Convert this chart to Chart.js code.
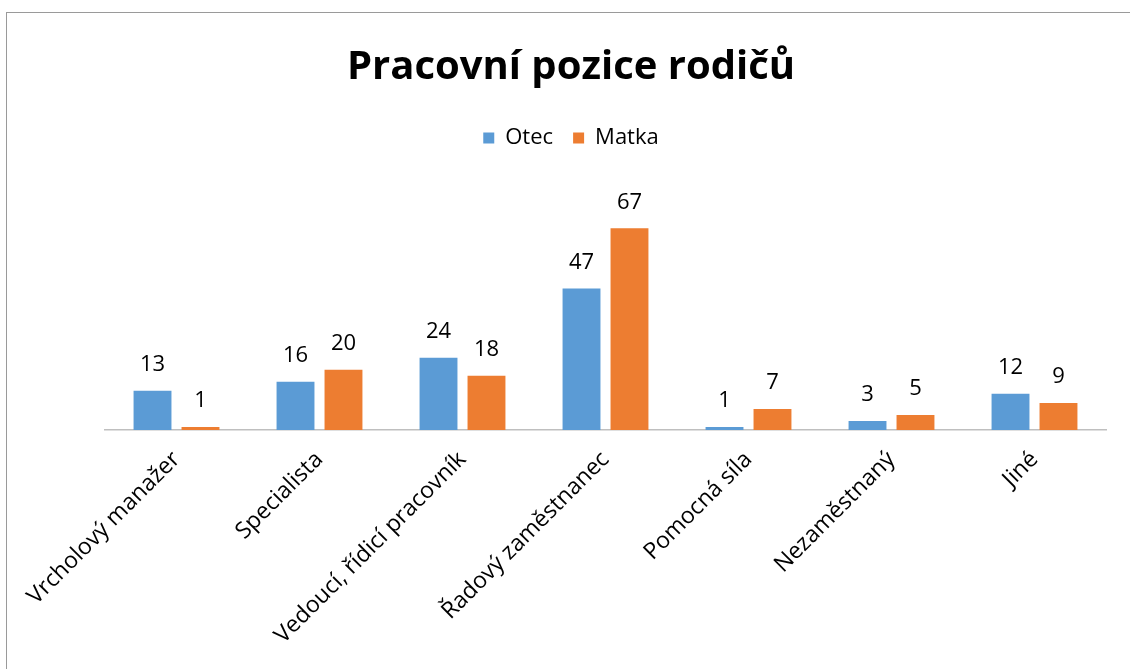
<!DOCTYPE html>
<html>
<head>
<meta charset="utf-8">
<script src="https://cdn.jsdelivr.net/npm/chart.js@4.4.0/dist/chart.umd.min.js"></script>
<style>
  html, body { margin: 0; padding: 0; background: #fff; }
  #wrap { position: relative; width: 1130px; height: 669px; overflow: hidden; }
  #frame { position: absolute; left: 6px; top: 12px; width: 1200px; height: 800px; border: 1.5px solid #9a9a9a; box-sizing: border-box; }
  canvas { position: absolute; left: 0; top: 0; }
</style>
</head>
<body>
<div id="wrap">
  <div id="frame"></div>
  <canvas id="c" width="1130" height="669"></canvas>
</div>
<script>
const titleText = "Pracovní pozice rodičů";
const categories = ["Vrcholový manažer", "Specialista", "Vedoucí, řídicí pracovník", "Řadový zaměstnanec", "Pomocná síla", "Nezaměstnaný", "Jiné"];
const seriesNames = ["Otec", "Matka"];
const otecValues = [13, 16, 24, 47, 1, 3, 12];
const matkaValues = [1, 20, 18, 67, 7, 5, 9];
const colors = ["#5B9BD5", "#ED7D31"];

const FONT = "'Open Sans', 'Noto Sans', sans-serif";

const valueLabels = {
  id: 'valueLabels',
  afterDatasetsDraw(chart) {
    const ctx = chart.ctx;
    ctx.save();
    ctx.font = "22px " + FONT;
    ctx.fillStyle = "#000";
    ctx.textAlign = "center";
    ctx.textBaseline = "middle";
    chart.data.datasets.forEach((ds, i) => {
      const meta = chart.getDatasetMeta(i);
      meta.data.forEach((bar, j) => {
        ctx.fillText(String(ds.data[j]), bar.x, bar.y - 26);
      });
    });
    ctx.restore();
  }
};

new Chart(document.getElementById('c'), {
  type: 'bar',
  data: {
    labels: categories,
    datasets: [
      { label: seriesNames[0], data: otecValues, backgroundColor: colors[0] },
      { label: seriesNames[1], data: matkaValues, backgroundColor: colors[1] }
    ]
  },
  options: {
    responsive: false,
    animation: false,
    devicePixelRatio: 1,
    categoryPercentage: 0.671,
    barPercentage: 0.79,
    layout: { padding: { left: 36, right: 24, top: 44, bottom: 0 } },
    plugins: {
      title: {
        display: true, text: titleText, color: "#000",
        font: { family: FONT, size: 40, weight: 'bold' },
        padding: { top: 0, bottom: 15 }
      },
      legend: {
        display: true, position: 'top',
        labels: { boxWidth: 11, boxHeight: 11, color: "#000", font: { family: FONT, size: 22 }, padding: 20 }
      },
      tooltip: { enabled: false }
    },
    scales: {
      x: {
        grid: { display: false, drawTicks: false },
        border: { display: true, color: "#bfbfbf", width: 1.5 },
        ticks: { color: "#000", font: { family: FONT, size: 23 }, minRotation: 45, maxRotation: 45, padding: 16, autoSkip: false },
        afterFit(scale) { scale.height = 239; }
      },
      y: {
        display: true, min: 0, max: 90,
        grid: { display: false, drawTicks: false },
        border: { display: false },
        ticks: { display: false },
        afterFit(scale) { scale.width = 69; }
      }
    }
  },
  plugins: [valueLabels]
});
</script>
</body>
</html>
